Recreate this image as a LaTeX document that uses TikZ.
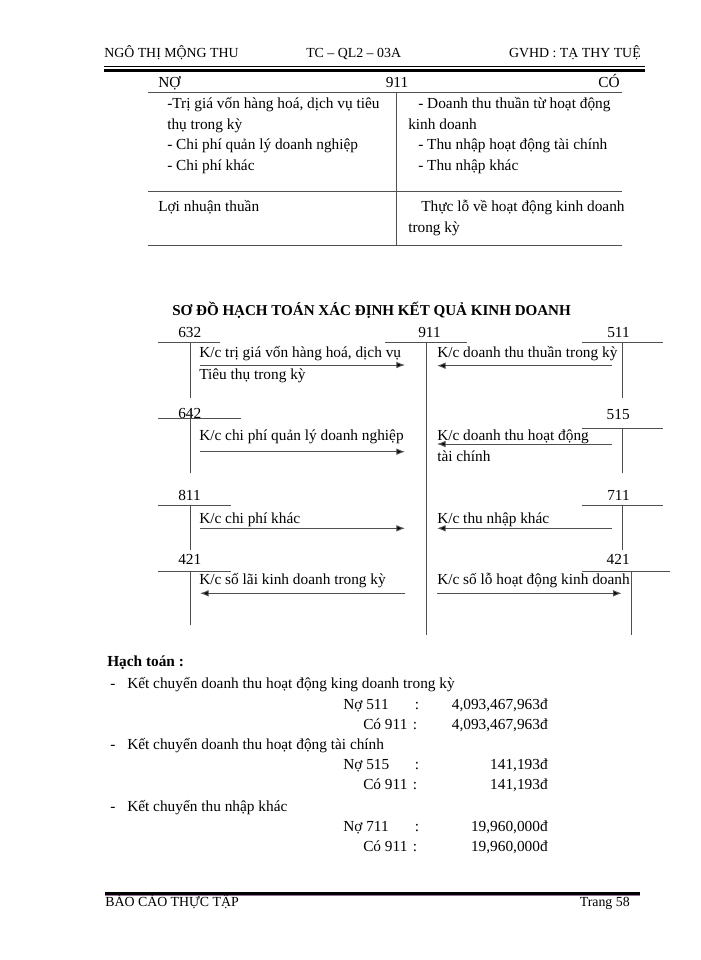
\documentclass[tikz,border=0pt]{standalone}
\usepackage{fontspec}
\setmainfont{Liberation Serif}
\usetikzlibrary{arrows.meta}
\definecolor{ruleG}{RGB}{80,80,80}
\definecolor{shadeP}{RGB}{150,115,150}

\begin{document}
\begin{tikzpicture}[x=0.75pt,y=-0.75pt,
  txt/.style={anchor=base west,inner sep=0pt,font=\fontsize{11.5}{14}\selectfont},
  txr/.style={txt,anchor=base east},
  hdr/.style={anchor=base west,inner sep=0pt,font=\fontsize{10.4}{12}\selectfont},
  ln/.style={draw=ruleG,line width=0.75pt},
  kc/.style={ln,-{Latex[length=6.5pt,width=5pt,fill=black]}}]
\fill[white] (0,0) rectangle (700,960);
\useasboundingbox (0,0) rectangle (700,960);
% header
\node[hdr] (hl) at (104,57) {NGÔ THỊ MỘNG THU};
\node[hdr] (hm) at (306,57) {TC – QL2 – 03A};
\node[hdr,anchor=base east] (hr) at (641,57) {GVHD : TẠ THY TUỆ};
\draw[line width=0.75pt] (104,66) -- (645,66);
\draw[line width=2.4pt] (104,70.5) -- (645,70.5);
% T account 911
\node[txt] (no) at (158,87) {NỢ};
\node[txt,anchor=base] (tk) at (397,87) {911};
\node[txr] (co) at (620,87) {CÓ};
\draw[ln] (148,92) -- (622,92) (148,191) -- (622,191) (148,245) -- (622,245) (396,92) -- (396,245);
\node[txt] (n1) at (167,108.5) {-Trị giá vốn hàng hoá, dịch vụ tiêu};
\node[txt] (n2) at (167,129.5) {thụ trong kỳ};
\node[txt] (n3) at (167,149.5) {- Chi phí quản lý doanh nghiệp};
\node[txt] (n4) at (167,170.5) {- Chi phí khác};
\node[txt] (c1) at (418,108.5) {- Doanh thu thuần từ hoạt động};
\node[txt] (c2) at (408,129.5) {kinh doanh};
\node[txt] (c3) at (418,149.5) {- Thu nhập hoạt động tài chính};
\node[txt] (c4) at (418,170.5) {- Thu nhập khác};
\node[txt] (ln1) at (158,211.5) {Lợi nhuận thuần};
\node[txt] (lo1) at (421,211.5) {Thực lỗ về hoạt động kinh doanh};
\node[txt] (lo2) at (408,232.5) {trong kỳ};
% diagram
\node[txt,font=\fontsize{11.3}{14}\selectfont\bfseries] (title) at (172,315) {SƠ ĐỒ HẠCH TOÁN XÁC ĐỊNH KẾT QUẢ KINH DOANH};
\foreach \n/\ty/\ly/\lx/\vt/\vb in {632/337.5/342/220/342/398, 642/418/418/241/410/473, 811/500/505/231/505/550, 421/564.5/571/231/571/625}
  {\node[txt] (L\n) at (178,\ty) {\n}; \draw[ln] (158,\ly) -- (\lx,\ly) (190.7,\vt) -- (190.7,\vb);}
\foreach \n/\ty/\ly/\lx/\vx/\vb in {511/337.5/342/663/622.7/398, 515/419/428/663/622.7/473, 711/500/505/663/622.7/550}
  {\node[txr] (R\n) at (630,\ty) {\n}; \draw[ln] (582,\ly) -- (\lx,\ly) (\vx,\ly) -- (\vx,\vb);}
\node[txr] (R421) at (630,564.5) {421};
\draw[ln] (582,571) -- (670,571) (631.7,571) -- (631.7,635);
\node[txt] (M911) at (418,337.5) {911};
\draw[ln] (385,342) -- (467,342) (426,342) -- (426,635);
\node[txt] (k1) at (199,357.5) {K/c trị giá vốn hàng hoá, dịch vụ};
\node[txt] (k1b) at (199,379.5) {Tiêu thụ trong kỳ};
\node[txt] (k2) at (437,357.5) {K/c doanh thu thuần trong kỳ};
\node[txt] (k3) at (199,440) {K/c chi phí quản lý doanh nghiệp};
\node[txt] (k4) at (437,440) {K/c doanh thu hoạt động};
\node[txt] (k4b) at (437,461) {tài chính};
\node[txt] (k5) at (199,523) {K/c chi phí khác};
\node[txt] (k6) at (437,523) {K/c thu nhập khác};
\node[txt] (k7) at (199,584.5) {K/c số lãi kinh doanh trong kỳ};
\node[txt] (k8) at (437,584.5) {K/c số lỗ hoạt động kinh doanh};
\foreach \i/\xa/\xb/\y in {1/200/405/365, 2/612/437/365.7, 3/200/405/451.7, 4/612/437/444, 5/200/405/528.3, 6/612/437/528.3, 7/405/200/593.3, 8/437/621.7/593.3}
  {\coordinate (s\i) at (\xa,\y); \coordinate (e\i) at (\xb,\y); \draw[kc] (s\i) -- (e\i);}
% hach toan
\node[txt,font=\fontsize{11.5}{14}\selectfont\bfseries] (ht) at (107,666) {Hạch toán :};
\foreach \i/\y/\t in {1/688/{Kết chuyển doanh thu hoạt động king doanh trong kỳ}, 2/749.5/{Kết chuyển doanh thu hoạt động tài chính}, 3/811/{Kết chuyển thu nhập khác}}
  {\node[txt] (d\i) at (110,\y) {-}; \node[txt] (b\i) at (127,\y) {\t};}
\foreach \i/\y/\a/\v in {1/709.5/511/{4,093,467,963đ}, 2/769.5/515/{141,193đ}, 3/831/711/{19,960,000đ}}
  {\node[txt] (no\i) at (343,\y) {Nợ \a};
   \node[txt,anchor=base] (cn\i) at (417,\y) {:};
   \node[txr] (vn\i) at (548,\y) {\v};
   \node[txt] (co\i) at (363,\y+20.2) {Có 911};
   \node[txt,anchor=base] (cc\i) at (415,\y+20.2) {:};
   \node[txr] (vc\i) at (548,\y+20.2) {\v};}
% footer
\draw[line width=2.5pt] (105,893.3) -- (640,893.3);
\draw[shadeP,line width=0.8pt] (105,895.9) -- (640,895.9);
\node[hdr] (fl) at (105,906) {BÁO CÁO THỰC TẬP};
\node[hdr,anchor=base east] (fr) at (630,906) {Trang 58};
\end{tikzpicture}
\end{document}
